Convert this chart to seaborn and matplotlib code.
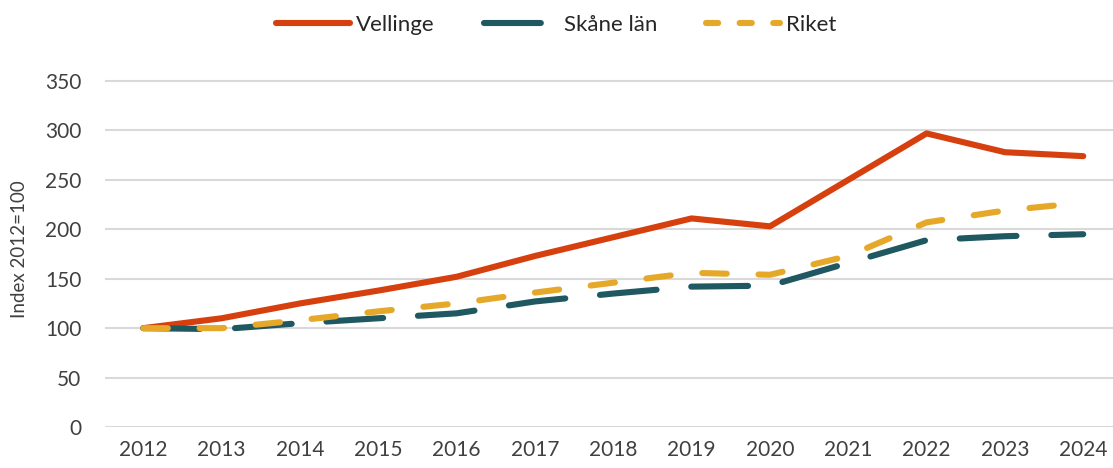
import seaborn as sns
import pandas as pd
import matplotlib.pyplot as plt

years = list(range(2012, 2025))
vellinge = [100, 110, 125, 138, 152, 173, 192, 211, 203, 250, 297, 278, 274]
skane = [100, 99, 105, 110, 115, 127, 135, 142, 143, 166, 189, 193, 195]
riket = [100, 100, 108, 117, 125, 136, 146, 156, 154, 173, 207, 219, 227]
series_names = ["Vellinge", "Skåne län", "Riket"]
series_colors = ["#D6400E", "#1F5860", "#E6A829"]
yticks = [0, 50, 100, 150, 200, 250, 300, 350]

df = pd.DataFrame({
    "year": years * 3,
    "value": vellinge + skane + riket,
    "series": [series_names[0]] * 13 + [series_names[1]] * 13 + [series_names[2]] * 13,
})

sns.set_style("white")
plt.rcParams["font.family"] = ["Lato", "DejaVu Sans"]
text_color = "#404040"

fig = plt.figure(figsize=(11.13, 4.68), dpi=100)
ax = fig.add_axes([105 / 1113, 0.0876, 1 - 105 / 1113, 0.848 - 0.0876])

sns.lineplot(data=df, x="year", y="value", hue="series", style="series",
             palette=dict(zip(series_names, series_colors)),
             dashes={"Vellinge": "", "Skåne län": (9.3, 5.7), "Riket": (4, 5.2)},
             linewidth=4.4, ax=ax, legend=False)

for line in ax.lines:
    line.set_solid_capstyle("round")
    line.set_dash_capstyle("round")

ax.set_xlim(2011.51, 2024.38)
ax.set_ylim(0, 360)
ax.set_yticks(yticks)
ax.set_xticks(years)
ax.grid(axis="y", color="#D9D9D9", linewidth=1.5)
ax.set_axisbelow(True)
for s in ax.spines.values():
    s.set_visible(False)
ax.tick_params(axis="both", length=0, labelsize=15, labelcolor=text_color)
ax.tick_params(axis="y", pad=17)
ax.tick_params(axis="x", pad=9)
ax.set_xlabel("")
ax.set_ylabel("Index 2012=100", fontsize=13.5, color=text_color, labelpad=12)

handles = [plt.Line2D([], [], color=c, lw=4.4, solid_capstyle="round", dash_capstyle="round",
                      linestyle=ls)
           for c, ls in zip(series_colors, ["-", (0, (9.3, 5.7)), (0, (2, 3.5))])]
fig.legend(handles, series_names, loc="center", bbox_to_anchor=(0.5, 0.947), ncol=3,
           frameon=False, fontsize=16, handlelength=3.3, columnspacing=2.2,
           handletextpad=0.3, labelcolor="#262626")

fig.savefig("out.png", dpi=100)
